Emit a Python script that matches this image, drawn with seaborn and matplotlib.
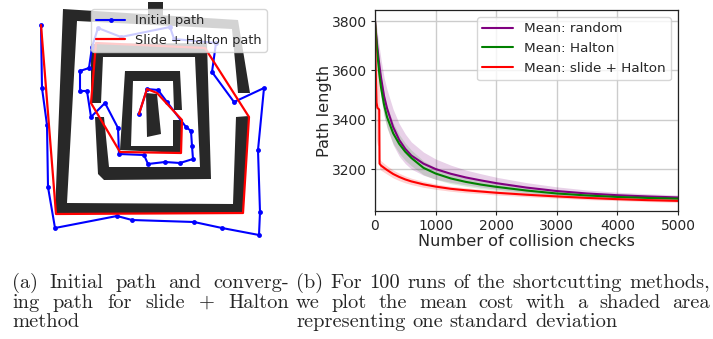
import numpy as np
import pandas as pd
import matplotlib
matplotlib.use("Agg")
import matplotlib.pyplot as plt
import seaborn as sns

# ---------------- data: left panel (maze + paths, image-like coordinates) ----------------
wall_outer_x = [63, 238, 250, 238, 232, 77, 67, 233, 236, 249, 243, 55]
wall_outer_y = [9, 20, 93, 93, 29, 21, 203, 204, 117, 116, 214, 214]
wall_middle_x = [91, 91, 207, 211, 104, 98, 95, 104, 109, 200, 195, 103, 101]
wall_middle_y = [103, 44, 43, 179, 180, 174, 117, 117, 167, 167, 57, 57, 103]
wall_inner_x = [182, 180, 125, 120, 182, 182, 173, 173, 131, 133, 173, 174]
wall_inner_y = [110, 71, 71, 150, 153, 120, 120, 146, 146, 81, 81, 110]
wall_center_x = [146, 157, 161, 147]
wall_center_y = [93, 94, 134, 137]
wall_top_x = [148, 163, 163, 148]
wall_top_y = [2, 2, 18, 17]

initial_x = [41, 42, 47, 48, 55, 117, 132, 194, 222, 259, 260, 258, 264, 234, 212, 216,
             174, 170, 121, 98, 92, 89, 80, 80, 87, 91, 105, 118, 119, 144, 148, 165,
             180, 193, 192, 191, 186, 167, 158, 147, 139]
initial_y = [25, 88, 125, 187, 228, 216, 220, 222, 228, 235, 212, 150, 88, 102, 72, 43,
             39, 27, 37, 28, 47, 68, 71, 91, 91, 117, 103, 128, 154, 155, 164, 162,
             163, 159, 146, 131, 127, 102, 90, 89, 114]
slide_x = [41, 56, 243, 249, 205, 96, 91, 120, 181, 182, 157, 147, 139]
slide_y = [25, 214, 213, 117, 48, 43, 103, 152, 153, 120, 93, 89, 114]

# ---------------- data: right panel (convergence curves) ----------------
checks = [0, 10, 25, 40, 60, 70, 75, 100, 150, 200, 300, 400, 500, 600, 800, 1000,
          1250, 1500, 1750, 2000, 2500, 3000, 3500, 4000, 4500, 5000]
mean_random = [3800, 3770, 3730, 3692, 3647, 3626, 3616, 3570, 3495, 3445, 3370, 3318,
               3282, 3255, 3222, 3200, 3181, 3166, 3154, 3143, 3125, 3111, 3101, 3094, 3089, 3085]
std_random = [0, 30, 50, 60, 68, 70, 71, 74, 76, 76, 72, 66, 60, 55, 47, 41, 35, 30, 27,
              24, 20, 17, 14, 12, 11, 10]
mean_halton = [3800, 3765, 3715, 3668, 3612, 3588, 3577, 3530, 3460, 3410, 3345, 3302,
               3270, 3245, 3205, 3182, 3162, 3148, 3137, 3128, 3113, 3101, 3093, 3087, 3083, 3080]
std_halton = [0, 22, 34, 40, 44, 45, 45, 46, 46, 45, 42, 38, 35, 32, 28, 24, 21, 18, 16,
              14, 12, 10, 8, 7, 6, 6]
mean_slide = [3800, 3620, 3470, 3448, 3444, 3440, 3222, 3214, 3205, 3196, 3180, 3168,
              3158, 3150, 3138, 3129, 3120, 3114, 3109, 3104, 3096, 3089, 3083, 3078, 3074, 3071]
std_slide = [0, 100, 150, 150, 150, 150, 20, 19, 18, 17, 16, 15, 14, 13, 12, 11, 10, 10,
             9, 9, 8, 7, 7, 6, 6, 6]

xticks = [0, 1000, 2000, 3000, 4000, 5000]
yticks = [3200, 3400, 3600, 3800]

caption_a = ["(a) Initial path and converg-", "ing path for slide + Halton", "method"]
caption_b = ["(b) For 100 runs of the shortcutting methods,",
             "we plot the mean cost with a shaded area",
             "representing one standard deviation"]

# ---------------- figure ----------------
sns.set_style("ticks")
plt.rcParams['font.family'] = ['DejaVu Sans']

W, H = 713, 339
fig = plt.figure(figsize=(W / 100, H / 100), dpi=100)

# left panel
axL = fig.add_axes([0, 0, 290 / W, 1])
wall_color = '#282828'
for wx, wy in [(wall_outer_x, wall_outer_y), (wall_middle_x, wall_middle_y),
               (wall_inner_x, wall_inner_y), (wall_center_x, wall_center_y),
               (wall_top_x, wall_top_y)]:
    axL.fill(wx, wy, color=wall_color, lw=0, zorder=1)

sns.lineplot(x=initial_x, y=initial_y, sort=False, estimator=None, color='blue',
             marker='o', markersize=3.5, markeredgewidth=0, lw=1.5,
             label='Initial path', ax=axL, zorder=2)
sns.lineplot(x=slide_x, y=slide_y, sort=False, estimator=None, color='red', lw=1.6,
             label='Slide + Halton path', ax=axL, zorder=3)
axL.set_xlim(0, 290)
axL.set_ylim(H, 0)
axL.axis('off')
axL.legend(loc='upper right', bbox_to_anchor=(267 / 290, 1 - 9 / H), borderaxespad=0,
           fontsize=9.3, framealpha=0.8, edgecolor='#cccccc', handlelength=2.2)

# right panel
axR = fig.add_axes([375 / W, 1 - 211 / H, 303 / W, 201 / H])
series = [(mean_random, std_random, 'purple', 'Mean: random', 0.18),
          (mean_halton, std_halton, 'green', 'Mean: Halton', 0.14),
          (mean_slide, std_slide, 'red', 'Mean: slide + Halton', 0.18)]
for m, s, c, lab, a in series:
    m = np.asarray(m, float)
    s = np.asarray(s, float)
    axR.fill_between(checks, m - s, m + s, color=c, alpha=a, lw=0)
for m, s, c, lab, a in series:
    df = pd.DataFrame({'checks': checks, 'length': m})
    sns.lineplot(data=df, x='checks', y='length', color=c, lw=1.5, label=lab, ax=axR)

axR.set_xlim(0, 5000)
axR.set_ylim(3030, 3845)
axR.set_xticks(xticks)
axR.set_yticks(yticks)
axR.grid(True, color='#cccccc', lw=1.0)
axR.set_axisbelow(True)
for sp in axR.spines.values():
    sp.set_visible(True)
    sp.set_color('#222222')
    sp.set_linewidth(0.9)
axR.tick_params(labelsize=10, length=3, width=0.8, pad=2.5, color='#222222')
axR.set_xlabel('Number of collision checks', fontsize=11.6, labelpad=1)
axR.set_ylabel('Path length', fontsize=11.6, labelpad=0.5)
axR.legend(loc='upper right', bbox_to_anchor=((671 - 375) / 303, (211 - 17) / 201),
           borderaxespad=0, fontsize=9.7, framealpha=0.8, edgecolor='#cccccc',
           handlelength=2.3)

# captions (justified like LaTeX subcaptions)
fig.canvas.draw()
renderer = fig.canvas.get_renderer()
probe = fig.text(0, 0, caption_b[0], fontsize=12, family='cmr10')
natural = probe.get_window_extent(renderer=renderer).width
probe.remove()
cap_fs = 12 * 410 / natural
baselines = [288, 308, 327]


def draw_line(text, x0, x1, ybase, justify):
    words = text.split(' ')
    objs = [fig.text(0, 1 - ybase / H, w, fontsize=cap_fs, family='cmr10',
                     va='baseline', ha='left') for w in words]
    widths = [o.get_window_extent(renderer=renderer).width for o in objs]
    if justify and len(words) > 1:
        gap = (x1 - x0 - sum(widths)) / (len(words) - 1)
    else:
        gap = cap_fs * 0.333 * 100 / 72
    x = x0
    for o, w in zip(objs, widths):
        o.set_x(x / W)
        x += w + gap


for i, line in enumerate(caption_a):
    draw_line(line, 12, 289, baselines[i], i < len(caption_a) - 1)
for i, line in enumerate(caption_b):
    draw_line(line, 296, 710, baselines[i], i < len(caption_b) - 1)

fig.savefig('out.png', dpi=100)
